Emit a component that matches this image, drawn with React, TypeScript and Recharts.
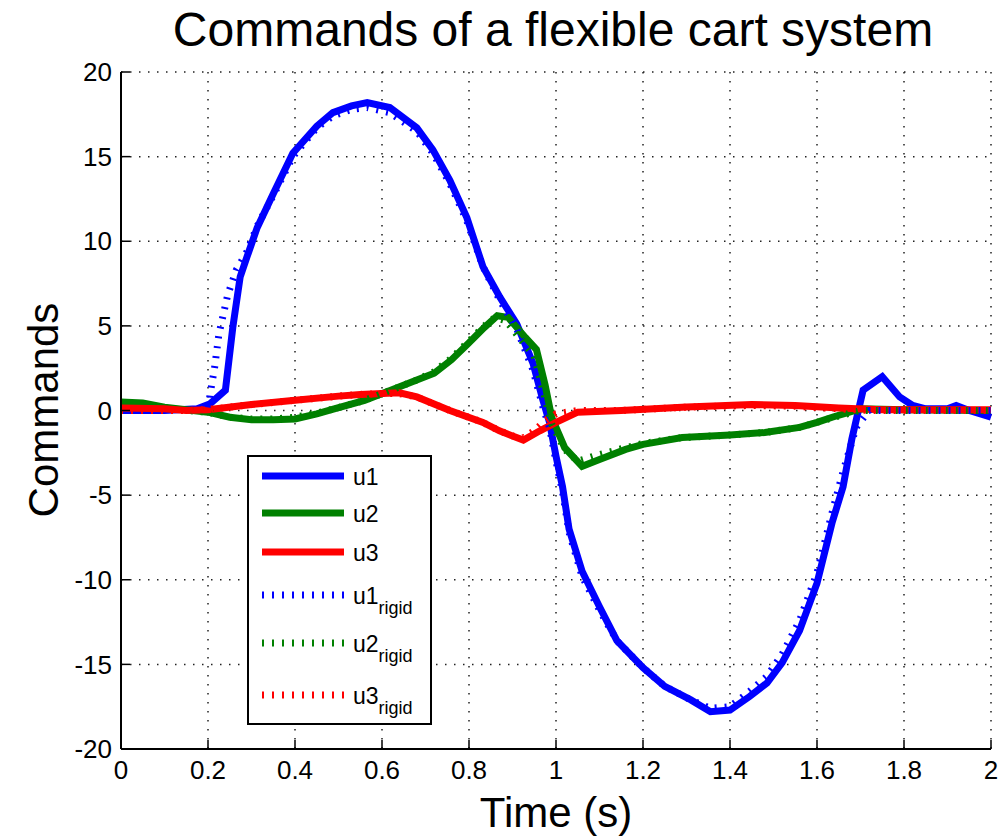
import { LineChart, Line, XAxis, YAxis, CartesianGrid } from "recharts";

// time (s), command value
const u1Points: [number, number][] = [
  [0, 0], [0.1, 0], [0.175, 0.1], [0.205, 0.4], [0.24, 1.2], [0.257, 4.9], [0.274, 7.9],
  [0.29, 9.1], [0.313, 10.8], [0.35, 12.8], [0.395, 15.2], [0.45, 16.8], [0.487, 17.6],
  [0.53, 18.0], [0.566, 18.2], [0.618, 17.9], [0.68, 16.7], [0.717, 15.4], [0.756, 13.6],
  [0.795, 11.4], [0.832, 8.5], [0.871, 6.7], [0.91, 5.1], [0.947, 2.8], [0.97, 0.6],
  [0.985, -0.7], [1.0, -2.7], [1.015, -4.5], [1.03, -7.0], [1.06, -9.5], [1.1, -11.6],
  [1.14, -13.6], [1.2, -15.2], [1.25, -16.3], [1.31, -17.1], [1.355, -17.8], [1.4, -17.7],
  [1.445, -16.9], [1.485, -16.1], [1.52, -14.9], [1.56, -13.0], [1.6, -10.2], [1.635, -6.6],
  [1.66, -4.5], [1.68, -1.7], [1.706, 1.2], [1.75, 2.0], [1.79, 0.8], [1.82, 0.3],
  [1.85, 0.1], [1.9, 0.1], [1.92, 0.3], [1.95, 0], [2, -0.4],
];

const u2Points: [number, number][] = [
  [0, 0.5], [0.05, 0.45], [0.1, 0.2], [0.15, 0.05], [0.2, -0.1], [0.25, -0.4], [0.3, -0.55],
  [0.35, -0.55], [0.4, -0.5], [0.45, -0.2], [0.49, 0.1], [0.56, 0.6], [0.62, 1.2],
  [0.68, 1.8], [0.72, 2.2], [0.76, 3.0], [0.8, 4.0], [0.835, 4.9], [0.865, 5.6], [0.89, 5.5],
  [0.93, 4.3], [0.955, 3.6], [0.975, 1.5], [0.99, -0.4], [1.02, -2.2], [1.06, -3.3],
  [1.1, -2.9], [1.16, -2.3], [1.2, -2.0], [1.29, -1.6], [1.4, -1.45], [1.48, -1.3],
  [1.56, -1.0], [1.6, -0.7], [1.635, -0.4], [1.7, 0.1], [1.8, 0.05], [2, 0],
];

const u3Points: [number, number][] = [
  [0, 0.15], [0.1, 0.1], [0.15, 0], [0.2, 0.05], [0.3, 0.35], [0.4, 0.6], [0.5, 0.85],
  [0.55, 0.95], [0.6, 1.0], [0.64, 1.05], [0.68, 0.8], [0.756, 0], [0.832, -0.7],
  [0.87, -1.2], [0.9, -1.5], [0.925, -1.75], [0.963, -1.2], [1.0, -0.7], [1.05, -0.1],
  [1.15, 0], [1.3, 0.2], [1.45, 0.35], [1.55, 0.3], [1.65, 0.15], [1.75, 0.05], [2, 0.05],
];

const u1RigidPoints: [number, number][] = [
  [0, 0], [0.2, 0], [0.205, 1.0], [0.215, 2.5], [0.225, 4.5], [0.245, 6.8], [0.265, 8.3],
  [0.29, 9.4], [0.313, 10.9], [0.35, 12.7], [0.395, 15.0], [0.45, 16.7], [0.487, 17.4],
  [0.53, 17.8], [0.566, 17.9], [0.618, 17.6], [0.68, 16.5], [0.717, 15.2], [0.756, 13.4],
  [0.795, 11.2], [0.832, 8.5], [0.871, 6.5], [0.91, 4.8], [0.947, 2.4], [0.97, 0.2],
  [0.985, -1.0], [1.0, -3.0], [1.015, -4.8], [1.03, -7.2], [1.06, -9.8], [1.1, -11.8],
  [1.14, -13.6], [1.2, -15.2], [1.25, -16.3], [1.31, -17.1], [1.355, -17.6], [1.4, -17.5],
  [1.445, -16.6], [1.485, -15.7], [1.52, -14.4], [1.56, -12.4], [1.6, -9.6], [1.635, -6.0],
  [1.66, -3.6], [1.69, -1.0], [1.72, 0], [2, 0],
];

const u2RigidPoints: [number, number][] = [
  [0, 0], [0.15, 0], [0.2, -0.1], [0.25, -0.4], [0.3, -0.5], [0.35, -0.5], [0.4, -0.4],
  [0.45, -0.15], [0.49, 0.1], [0.56, 0.6], [0.62, 1.2], [0.68, 1.8], [0.72, 2.3],
  [0.76, 3.1], [0.8, 4.1], [0.835, 5.0], [0.86, 5.5], [0.885, 5.3], [0.925, 4.0],
  [0.95, 3.2], [0.97, 1.2], [0.99, -0.8], [1.02, -2.3], [1.05, -3.0], [1.1, -2.6],
  [1.16, -2.2], [1.2, -1.95], [1.29, -1.6], [1.4, -1.45], [1.48, -1.3], [1.56, -1.0],
  [1.6, -0.7], [1.64, -0.4], [1.7, 0], [2, 0],
];

const u3RigidPoints: [number, number][] = [
  [0, 0], [0.15, 0], [0.2, 0.05], [0.3, 0.35], [0.4, 0.6], [0.5, 0.85], [0.55, 0.95],
  [0.6, 1.0], [0.64, 1.0], [0.68, 0.8], [0.756, 0], [0.832, -0.7], [0.87, -1.2],
  [0.9, -1.5], [0.925, -1.6], [0.95, -1.2], [0.975, -0.6], [1.0, -0.2], [1.05, 0],
  [1.15, 0], [1.3, 0.2], [1.45, 0.3], [1.55, 0.25], [1.65, 0.1], [1.72, 0], [2, 0],
];

const xTicks = [0, 0.2, 0.4, 0.6, 0.8, 1, 1.2, 1.4, 1.6, 1.8, 2];
const yTicks = [-20, -15, -10, -5, 0, 5, 10, 15, 20];

const series = [
  { key: "u1", label: "u1", sub: "", color: "#0000ff", rigid: false, points: u1Points },
  { key: "u2", label: "u2", sub: "", color: "#008000", rigid: false, points: u2Points },
  { key: "u3", label: "u3", sub: "", color: "#ff0000", rigid: false, points: u3Points },
  { key: "u1r", label: "u1", sub: "rigid", color: "#0000ff", rigid: true, points: u1RigidPoints },
  { key: "u2r", label: "u2", sub: "rigid", color: "#008000", rigid: true, points: u2RigidPoints },
  { key: "u3r", label: "u3", sub: "rigid", color: "#ff0000", rigid: true, points: u3RigidPoints },
];

const FONT = "'Liberation Sans', Arial, Helvetica, sans-serif";
const LINE_W = 7;
const DOTS = "2 8";

function ChartLegend() {
  const rowY = [21, 58, 97, 140, 188, 240];
  return (
    <div
      style={{
        position: "absolute",
        left: 247,
        top: 455,
        width: 185,
        height: 270,
        boxSizing: "border-box",
        border: "2px solid #000",
        background: "#fff",
        fontFamily: FONT,
      }}
    >
      <svg width={181} height={266}>
        {series.map((s, i) => (
          <g key={s.key}>
            <line
              x1={13}
              x2={95}
              y1={rowY[i] - 2}
              y2={rowY[i] - 2}
              stroke={s.color}
              strokeWidth={LINE_W}
              strokeDasharray={s.rigid ? DOTS : undefined}
            />
            <text x={104} y={rowY[i] + 7} fontSize={23} fill="#000">
              {s.label}
              {s.sub && (
                <tspan fontSize={18} dy={10}>
                  {s.sub}
                </tspan>
              )}
            </text>
          </g>
        ))}
      </svg>
    </div>
  );
}

export default function App() {
  return (
    <div style={{ position: "absolute", left: 0, top: 0, width: 1002, height: 836, background: "#fff" }}>
      <LineChart
        width={1002}
        height={836}
        margin={{ top: 72, right: 11, bottom: 0, left: 0 }}
        style={{ fontFamily: FONT }}
      >
        <CartesianGrid stroke="#222" strokeWidth={1.5} strokeDasharray="1.5 7.5" />
        <XAxis
          dataKey="t"
          type="number"
          domain={[0, 2]}
          ticks={xTicks}
          allowDuplicatedCategory={false}
          tickFormatter={(v: number) => String(Math.round(v * 10) / 10)}
          height={87}
          axisLine={{ stroke: "#000", strokeWidth: 2 }}
          tickLine={{ stroke: "#000", strokeWidth: 1.5 }}
          tickSize={-9}
          tickMargin={21}
          tick={{ fill: "#000", fontSize: 26 }}
          interval={0}
        />
        <YAxis
          type="number"
          domain={[-20, 20]}
          ticks={yTicks}
          width={121}
          axisLine={{ stroke: "#000", strokeWidth: 2 }}
          tickLine={{ stroke: "#000", strokeWidth: 1.5 }}
          tickSize={-9}
          tickMargin={18}
          tick={{ fill: "#000", fontSize: 26 }}
          interval={0}
        />
        {series.map((s) => (
          <Line
            key={s.key}
            data={s.points.map(([t, v]) => ({ t, v }))}
            dataKey="v"
            name={s.key}
            type="linear"
            stroke={s.color}
            strokeWidth={LINE_W}
            strokeDasharray={s.rigid ? DOTS : undefined}
            dot={false}
            activeDot={false}
            isAnimationActive={false}
          />
        ))}
      </LineChart>
      <svg
        width={1002}
        height={836}
        style={{ position: "absolute", left: 0, top: 0, pointerEvents: "none", fontFamily: FONT }}
      >
        <text x={553} y={46} textAnchor="middle" fontSize={48} fill="#000">
          Commands of a flexible cart system
        </text>
        <text x={556} y={827} textAnchor="middle" fontSize={42} fill="#000">
          Time (s)
        </text>
        <text
          x={0}
          y={0}
          transform="translate(58,410) rotate(-90)"
          textAnchor="middle"
          fontSize={42}
          fill="#000"
        >
          Commands
        </text>
      </svg>
      <ChartLegend />
    </div>
  );
}
